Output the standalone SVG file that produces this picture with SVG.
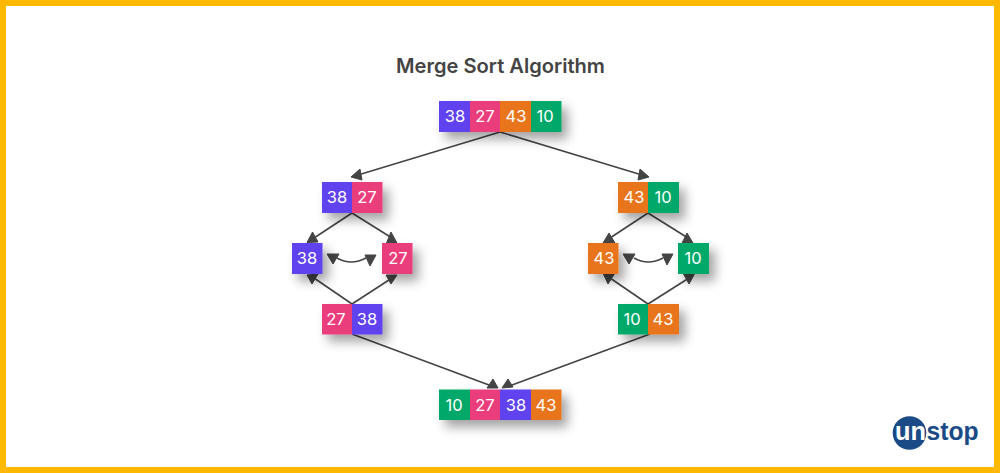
<svg xmlns="http://www.w3.org/2000/svg" width="1000" height="473" viewBox="0 0 1000 473">
<style>
.t{font-family:Inter,"Liberation Sans",sans-serif;font-size:16.5px;fill:#fff;text-anchor:middle}
.p{fill:#6143ee}.r{fill:#ea3c7c}.o{fill:#e8751a}.g{fill:#02a96b}
.c{fill:none;stroke:#444;stroke-width:1.6}
.h{fill:#444;stroke:#444;stroke-width:1;stroke-linejoin:round}
.title{font-family:Inter,"Liberation Sans",sans-serif;font-size:20.1px;font-weight:600;fill:#444;text-anchor:middle}
</style>
<defs>
<filter id="s" x="-50%" y="-50%" width="220%" height="220%"><feDropShadow dx="6" dy="7" stdDeviation="5.500" flood-color="#000" flood-opacity="0.36"/></filter>
</defs>
<rect x="3" y="3" width="994" height="467" fill="#fff" stroke="#ffb800" stroke-width="6"/>
<text class="title" x="500.500" y="72.500">Merge Sort Algorithm</text>
<g id="connectors">
<path class="c" d="M500 132L358 175"/>
<polygon class="h" points="351,177 360,169 362,180"/>
<path class="c" d="M500 132L642 175"/>
<polygon class="h" points="649,177 640,169 638,180"/>
<path class="c" d="M352 213L314 238"/><polygon class="h" points="312.500,232 307,242.500 318,242"/>
<path class="c" d="M352 213L392 238"/><polygon class="h" points="391,232 386.500,243 397,243"/>
<path class="c" d="M352 304L314 278"/><polygon class="h" points="307,275 318,274 312,284"/>
<path class="c" d="M352 304L392 278"/><polygon class="h" points="386,275 397,275 391,284"/>
<path class="c" d="M648 213L610 238"/><polygon class="h" points="609,233 603,243 615,243"/>
<path class="c" d="M648 213L688 238"/><polygon class="h" points="687,233 682,243 693,243"/>
<path class="c" d="M648 304L610 278"/><polygon class="h" points="603,273 615,273 608,284"/>
<path class="c" d="M648 304L689 278"/><polygon class="h" points="683,273 695,273 689,284"/>
<path class="c" d="M352 334L489 385"/><polygon class="h" points="487,388 493,379 498,388"/>
<path class="c" d="M650 334L512 385"/><polygon class="h" points="502,388 508,379 513,387"/>
<path class="c" d="M337 258Q351 266 366 258"/>
<polygon class="h" points="327,254 339,254 333,264"/><polygon class="h" points="365,255 376,255 370,266"/>
<path class="c" d="M634 258Q648 266 663 258"/>
<polygon class="h" points="623,254 635,254 629,264"/><polygon class="h" points="662,254 673,254 667,265"/>
</g>
<g id="node-top" filter="url(#s)"><rect class="p" x="439" y="101" width="31" height="31"/><rect class="r" x="470" y="101" width="30.500" height="31"/><rect class="o" x="500" y="101" width="31" height="31"/><rect class="g" x="531" y="101" width="30.500" height="31"/></g>
<g id="node-top-text"><text class="t" x="455" y="122">38</text><text class="t" x="485" y="122">27</text><text class="t" x="516" y="122">43</text><text class="t" x="545" y="122">10</text></g>
<g id="node-l1" filter="url(#s)"><rect class="p" x="322" y="182" width="30.500" height="31"/><rect class="r" x="352" y="182" width="30.500" height="31"/></g>
<g id="node-l1-text"><text class="t" x="337" y="203">38</text><text class="t" x="367" y="203">27</text></g>
<g id="node-r1" filter="url(#s)"><rect class="o" x="618" y="182" width="30.500" height="31"/><rect class="g" x="648" y="182" width="31" height="31"/></g>
<g id="node-r1-text"><text class="t" x="634" y="203">43</text><text class="t" x="663" y="203">10</text></g>
<g id="node-l2a" filter="url(#s)"><rect class="p" x="292" y="243" width="30.500" height="31"/></g>
<text class="t" x="307" y="264">38</text>
<g id="node-l2b" filter="url(#s)"><rect class="r" x="382" y="243" width="30.500" height="31"/></g>
<text class="t" x="398" y="264">27</text>
<g id="node-r2a" filter="url(#s)"><rect class="o" x="588" y="243" width="30.500" height="31"/></g>
<text class="t" x="604" y="264">43</text>
<g id="node-r2b" filter="url(#s)"><rect class="g" x="678" y="243" width="31" height="31"/></g>
<text class="t" x="693" y="264">10</text>
<g id="node-l3" filter="url(#s)"><rect class="r" x="322" y="304" width="30.500" height="30.500"/><rect class="p" x="352" y="304" width="30.500" height="30.500"/></g>
<g id="node-l3-text"><text class="t" x="336" y="325">27</text><text class="t" x="367" y="325">38</text></g>
<g id="node-r3" filter="url(#s)"><rect class="g" x="618" y="304" width="30.500" height="30.500"/><rect class="o" x="648" y="304" width="31" height="30.500"/></g>
<g id="node-r3-text"><text class="t" x="632" y="325">10</text><text class="t" x="663" y="325">43</text></g>
<g id="node-bottom" filter="url(#s)"><rect class="g" x="439" y="389.500" width="31" height="30.500"/><rect class="r" x="470" y="389.500" width="30.500" height="30.500"/><rect class="p" x="500" y="389.500" width="31" height="30.500"/><rect class="o" x="531" y="389.500" width="30.500" height="30.500"/></g>
<g id="node-bottom-text"><text class="t" x="454" y="410.500">10</text><text class="t" x="485" y="410.500">27</text><text class="t" x="516" y="410.500">38</text><text class="t" x="546" y="410.500">43</text></g>
<g id="logo"><circle cx="909.500" cy="433" r="16.800" fill="#1a4b86"/>
<text x="895" y="440" font-family="Liberation Sans,sans-serif" font-weight="700" font-size="26" fill="#fff" textLength="31" lengthAdjust="spacingAndGlyphs">un</text>
<text x="926.500" y="440" font-family="Liberation Sans,sans-serif" font-weight="700" font-size="26" fill="#1a4b86" textLength="52" lengthAdjust="spacingAndGlyphs">stop</text></g>
</svg>
